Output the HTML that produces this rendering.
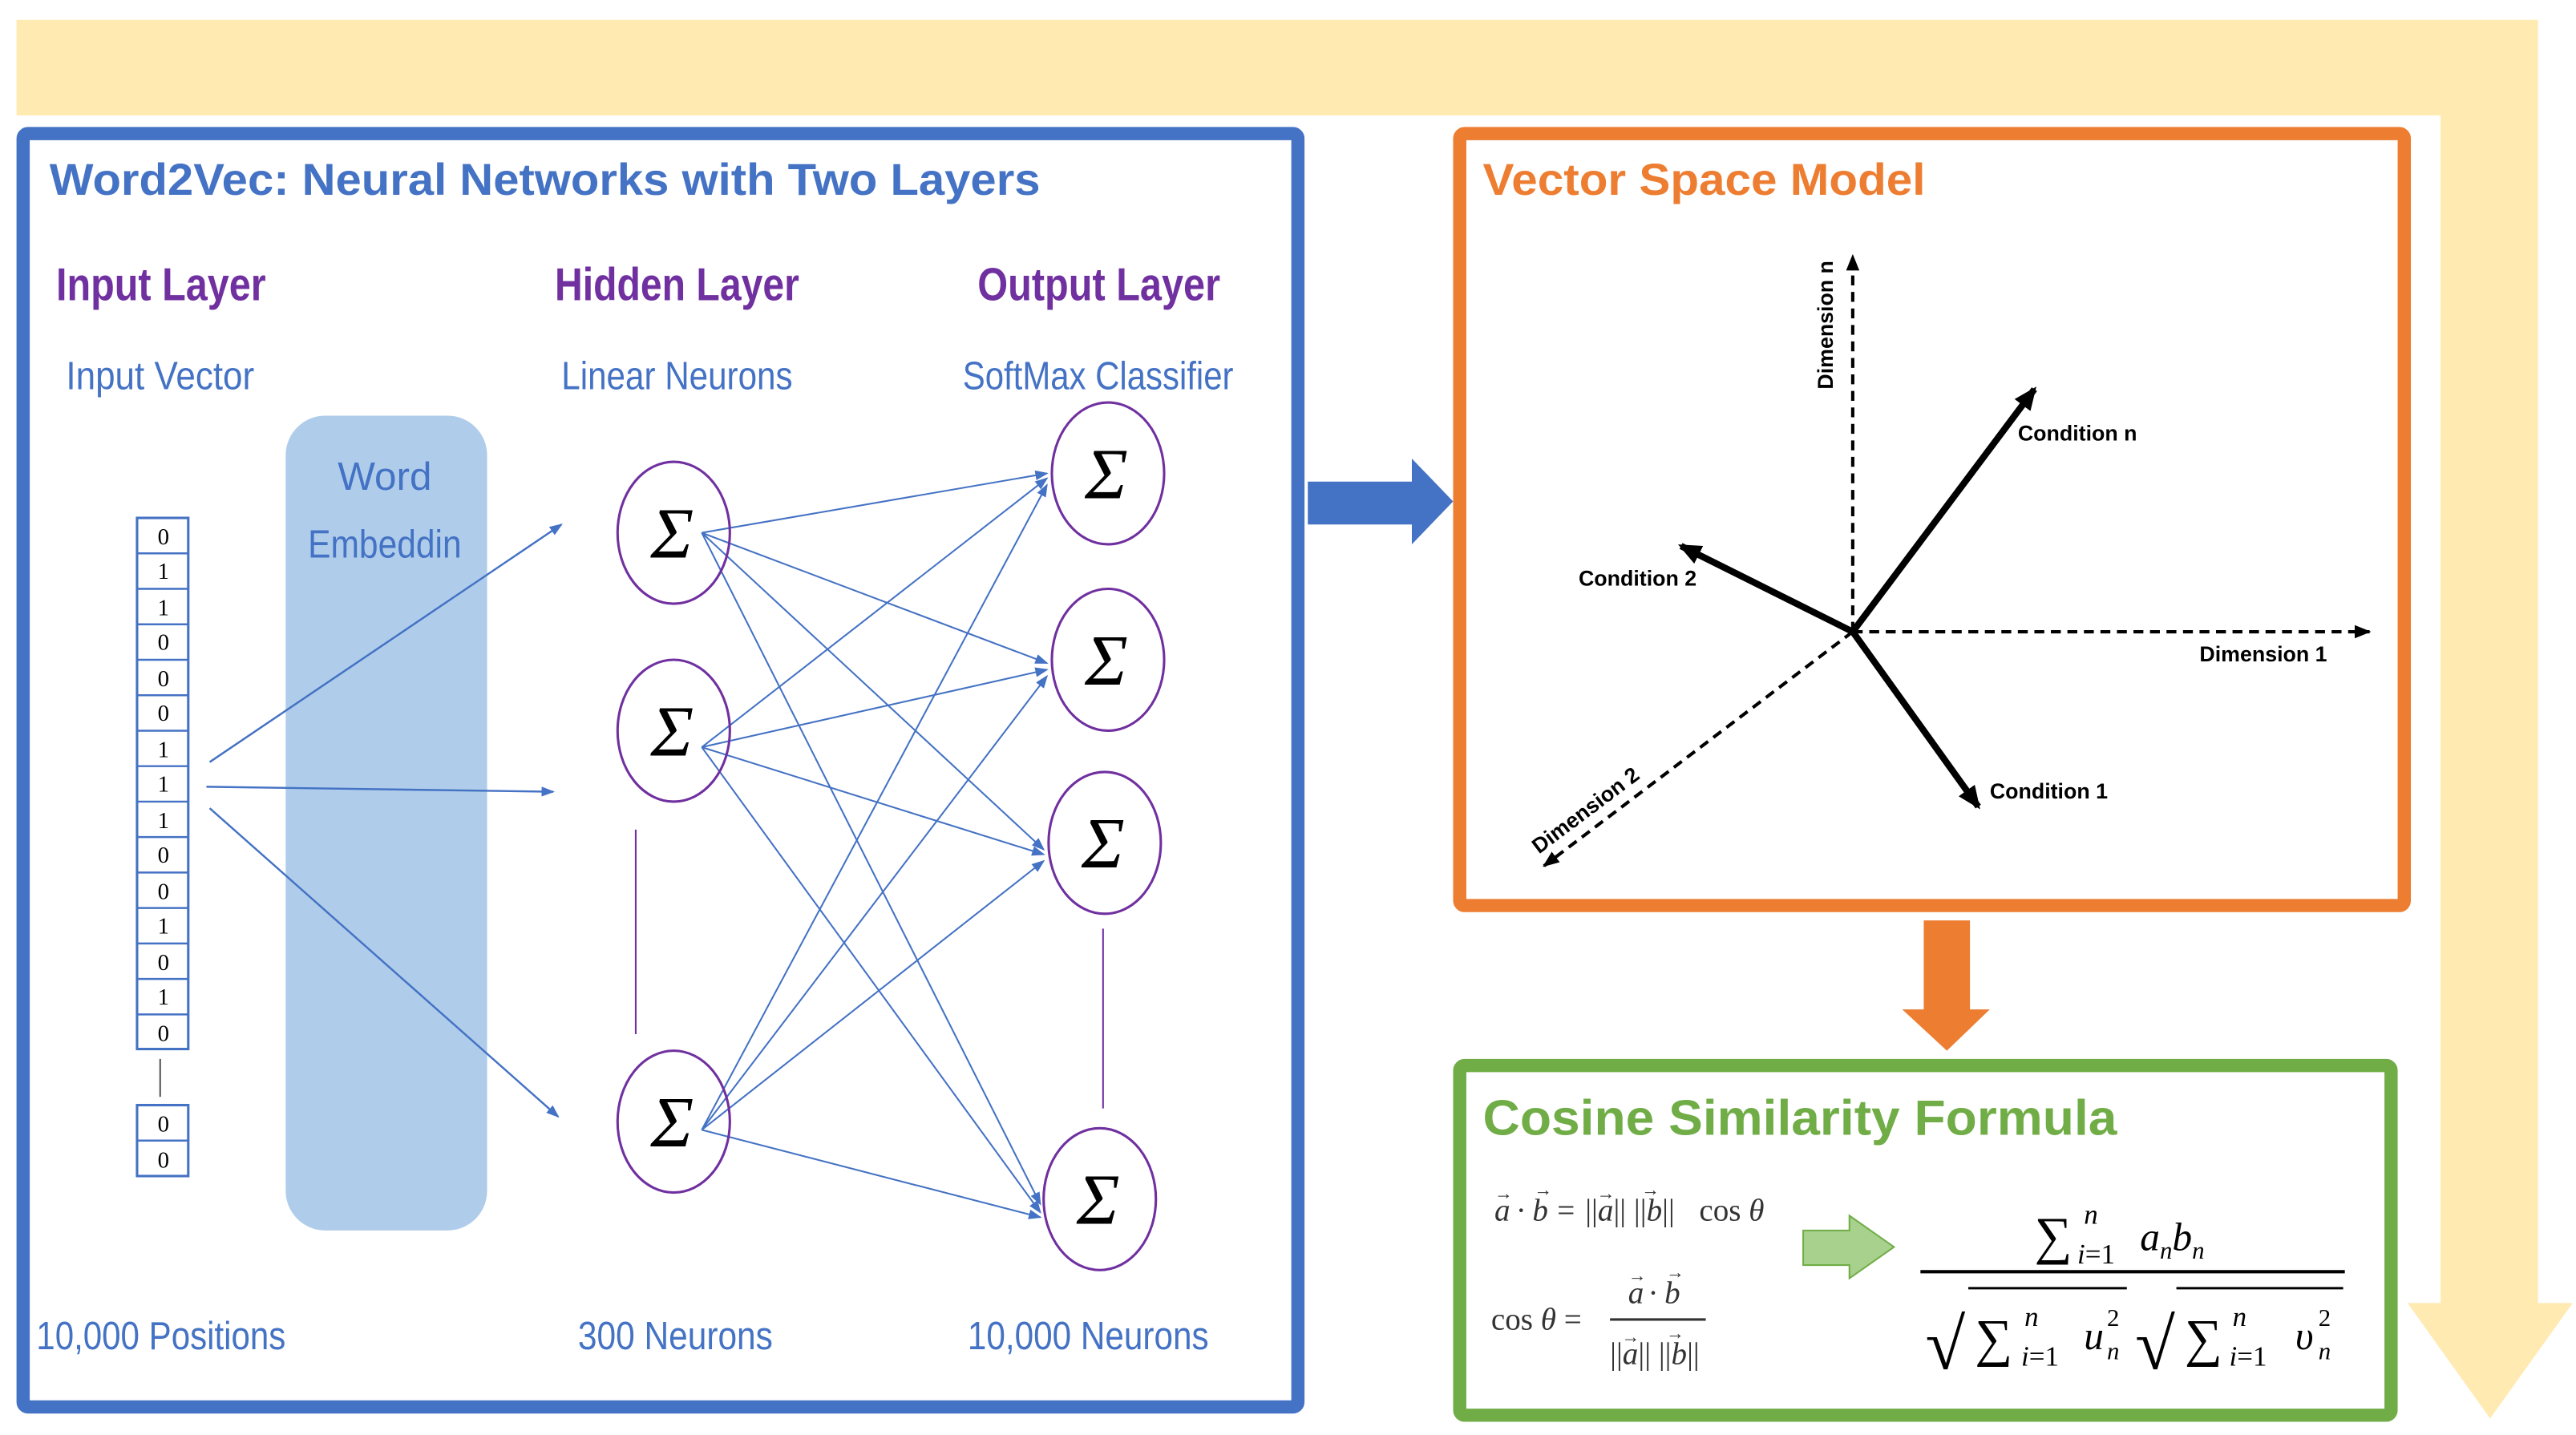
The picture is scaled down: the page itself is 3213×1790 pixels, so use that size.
<!DOCTYPE html>
<html><head><meta charset="utf-8"><style>
html,body{margin:0;padding:0;background:#fff;}
svg{display:block;}
text{font-family:"Liberation Sans",sans-serif;}
.serif text, text.serif{font-family:"Liberation Serif",serif;}
</style></head><body>
<svg width="3213" height="1790" viewBox="0 0 1560 870" preserveAspectRatio="none" xmlns="http://www.w3.org/2000/svg">
<defs>
<marker id="ab" markerWidth="8" markerHeight="8" refX="7" refY="4" orient="auto" markerUnits="userSpaceOnUse"><path d="M0,1 L8,4 L0,7 Z" fill="#4472C4"/></marker>
<marker id="kb" markerWidth="14" markerHeight="14" refX="12" refY="7" orient="auto" markerUnits="userSpaceOnUse"><path d="M0,1 L14,7 L0,13 Z" fill="#000"/></marker>
<marker id="kd" markerWidth="10" markerHeight="10" refX="9" refY="5" orient="auto" markerUnits="userSpaceOnUse"><path d="M0,1 L10,5 L0,9 Z" fill="#000"/></marker>
</defs>
<path d="M10,12 H1537 V790 H1558 L1508,860 L1458,790 H1478 V70 H10 Z" fill="#FFEAB2"/>
<rect x="14" y="81" width="772" height="772" fill="#fff" stroke="#4472C4" stroke-width="8" rx="3"/>
<text x="30" y="118" font-size="27" font-weight="bold" fill="#4472C4" textLength="600" lengthAdjust="spacingAndGlyphs">Word2Vec: Neural Networks with Two Layers</text>
<g font-size="28" font-weight="bold" fill="#7030A0">
<text x="34" y="182" textLength="127" lengthAdjust="spacingAndGlyphs">Input Layer</text>
<text x="336" y="182" textLength="148" lengthAdjust="spacingAndGlyphs">Hidden Layer</text>
<text x="592" y="182" textLength="147" lengthAdjust="spacingAndGlyphs">Output Layer</text>
</g>
<g font-size="24" fill="#4472C4">
<text x="40" y="236" textLength="114" lengthAdjust="spacingAndGlyphs">Input Vector</text>
<text x="340" y="236" textLength="140" lengthAdjust="spacingAndGlyphs">Linear Neurons</text>
<text x="583" y="236" textLength="164" lengthAdjust="spacingAndGlyphs">SoftMax Classifier</text>
<text x="22" y="818" textLength="151" lengthAdjust="spacingAndGlyphs">10,000 Positions</text>
<text x="350" y="818" textLength="118" lengthAdjust="spacingAndGlyphs">300 Neurons</text>
<text x="586" y="818" textLength="146" lengthAdjust="spacingAndGlyphs">10,000 Neurons</text>
</g>
<rect x="173" y="252" width="122" height="494" rx="24" fill="#AFCDEA"/>
<g font-size="24" fill="#4472C4" text-anchor="middle">
<text x="233" y="297">Word</text>
<text x="233" y="338" textLength="93" lengthAdjust="spacingAndGlyphs">Embeddin</text>
</g>
<g stroke="#4472C4" stroke-width="1.5" fill="#fff">
<rect x="83" y="314" width="31" height="322"/>
<rect x="83" y="670" width="31" height="43"/>
</g>
<g stroke="#4472C4" stroke-width="1.2">
<line x1="83" y1="335.5" x2="114" y2="335.5"/><line x1="83" y1="357" x2="114" y2="357"/><line x1="83" y1="378.5" x2="114" y2="378.5"/><line x1="83" y1="400" x2="114" y2="400"/><line x1="83" y1="421.5" x2="114" y2="421.5"/><line x1="83" y1="443" x2="114" y2="443"/><line x1="83" y1="464.5" x2="114" y2="464.5"/><line x1="83" y1="486" x2="114" y2="486"/><line x1="83" y1="507.5" x2="114" y2="507.5"/><line x1="83" y1="529" x2="114" y2="529"/><line x1="83" y1="550.5" x2="114" y2="550.5"/><line x1="83" y1="572" x2="114" y2="572"/><line x1="83" y1="593.5" x2="114" y2="593.5"/><line x1="83" y1="615" x2="114" y2="615"/>
<line x1="83" y1="691.5" x2="114" y2="691.5"/>
</g>
<line x1="97" y1="642" x2="97" y2="665" stroke="#555" stroke-width="1"/>
<g class="serif" font-size="14" fill="#000" text-anchor="middle">
<text x="99" y="330">0</text><text x="99" y="351">1</text><text x="99" y="373">1</text><text x="99" y="394">0</text><text x="99" y="416">0</text><text x="99" y="437">0</text><text x="99" y="459">1</text><text x="99" y="480">1</text><text x="99" y="502">1</text><text x="99" y="523">0</text><text x="99" y="545">0</text><text x="99" y="566">1</text><text x="99" y="588">0</text><text x="99" y="609">1</text><text x="99" y="631">0</text>
<text x="99" y="686">0</text><text x="99" y="708">0</text>
</g>
<g stroke="#4472C4" stroke-width="1.2" marker-end="url(#ab)">
<line x1="127" y1="462" x2="340" y2="318"/>
<line x1="125" y1="477" x2="335" y2="480"/>
<line x1="127" y1="490" x2="338" y2="677"/>
</g>
<g stroke="#4472C4" stroke-width="1" marker-end="url(#ab)">
<line x1="425" y1="323" x2="634" y2="287"/><line x1="425" y1="323" x2="634" y2="402"/><line x1="425" y1="323" x2="632" y2="515"/><line x1="425" y1="323" x2="630" y2="730"/>
<line x1="425" y1="453" x2="634" y2="290"/><line x1="425" y1="453" x2="634" y2="406"/><line x1="425" y1="453" x2="632" y2="518"/><line x1="425" y1="453" x2="630" y2="735"/>
<line x1="425" y1="685" x2="634" y2="294"/><line x1="425" y1="685" x2="634" y2="410"/><line x1="425" y1="685" x2="632" y2="522"/><line x1="425" y1="685" x2="630" y2="738"/>
</g>
<g fill="none" stroke="#7030A0" stroke-width="1.5">
<ellipse cx="408" cy="323" rx="34" ry="43"/><ellipse cx="408" cy="443" rx="34" ry="43"/><ellipse cx="408" cy="680" rx="34" ry="43"/>
<ellipse cx="671" cy="287" rx="34" ry="43"/><ellipse cx="671" cy="400" rx="34" ry="43"/><ellipse cx="669" cy="511" rx="34" ry="43"/><ellipse cx="666" cy="727" rx="34" ry="43"/>
</g>
<line x1="385" y1="503" x2="385" y2="627" stroke="#7030A0" stroke-width="1"/>
<line x1="668" y1="563" x2="668" y2="672" stroke="#7030A0" stroke-width="1"/>
<g class="serif" font-size="44" font-style="italic" fill="#000" text-anchor="middle">
<text x="407" y="338">Σ</text><text x="407" y="458">Σ</text><text x="407" y="695">Σ</text>
<text x="670" y="302">Σ</text><text x="670" y="415">Σ</text><text x="668" y="526">Σ</text><text x="665" y="742">Σ</text>
</g>
<path d="M792,292 H855 V278 L880,304 L855,330 V318 H792 Z" fill="#4472C4"/>
<rect x="884" y="81" width="572" height="468" fill="#fff" stroke="#ED7D31" stroke-width="8" rx="3"/>
<text x="898" y="118" font-size="27" font-weight="bold" fill="#ED7D31" textLength="268" lengthAdjust="spacingAndGlyphs">Vector Space Model</text>
<g stroke="#000" stroke-width="2" stroke-dasharray="6,4" marker-end="url(#kd)">
<line x1="1122" y1="383" x2="1122" y2="155"/>
<line x1="1122" y1="383" x2="1435" y2="383"/>
<line x1="1122" y1="383" x2="935" y2="525"/>
</g>
<g stroke="#000" stroke-width="4" marker-end="url(#kb)">
<line x1="1122" y1="383" x2="1232" y2="236"/>
<line x1="1122" y1="383" x2="1018" y2="331"/>
<line x1="1122" y1="383" x2="1198" y2="489"/>
</g>
<g font-size="13" font-weight="bold" fill="#000">
<text x="1222" y="267">Condition n</text>
<text x="956" y="355">Condition 2</text>
<text x="1332" y="401">Dimension 1</text>
<text x="1205" y="484">Condition 1</text>
<text transform="translate(1110,236) rotate(-90)">Dimension n</text>
<text transform="translate(932,518) rotate(-37)">Dimension 2</text>
</g>
<path d="M1165,558 H1193 V612 H1205 L1179,637 L1152,612 H1165 Z" fill="#ED7D31"/>
<rect x="884" y="646" width="564" height="212" fill="#fff" stroke="#70AD47" stroke-width="8" rx="3"/>
<text x="898" y="688" font-size="30" font-weight="bold" fill="#70AD47" textLength="384" lengthAdjust="spacingAndGlyphs">Cosine Similarity Formula</text>
<g class="serif" fill="#333" font-size="19">
<!-- formula 1 -->
<text x="905" y="740" font-style="italic">a</text>
<text x="918" y="740">·</text>
<text x="928" y="740" font-style="italic">b</text>
<text x="943" y="740">=</text>
<text x="960" y="740">||<tspan font-style="italic">a</tspan>|| ||<tspan font-style="italic">b</tspan>||</text>
<text x="1029" y="740">cos <tspan font-style="italic">θ</tspan></text>
<g font-size="11"><text x="905" y="727">→</text><text x="929" y="725">→</text><text x="967" y="727">→</text><text x="994" y="725">→</text></g>
<!-- formula 2 -->
<text x="903" y="806">cos <tspan font-style="italic">θ</tspan> =</text>
<text x="986" y="790" font-style="italic">a</text>
<text x="998" y="790">·</text>
<text x="1008" y="790" font-style="italic">b</text>
<text x="975" y="827">||<tspan font-style="italic">a</tspan>|| ||<tspan font-style="italic">b</tspan>||</text>
<g font-size="11"><text x="986" y="777">→</text><text x="1009" y="775">→</text><text x="982" y="814">→</text><text x="1009" y="812">→</text></g>
</g>
<line x1="975" y1="800" x2="1033" y2="800" stroke="#333" stroke-width="1.5"/>
<path d="M1092,746 H1120 V737 L1147,756 L1120,775 V767 H1092 Z" fill="#A9D18E" stroke="#70AD47" stroke-width="1"/>
<g class="serif" fill="#000">
<text x="1232" y="760" font-size="32">∑</text>
<text x="1262" y="742" font-size="17" font-style="italic">n</text>
<text x="1258" y="766" font-size="17"><tspan font-style="italic">i</tspan>=1</text>
<text x="1296" y="758" font-size="24" font-style="italic">a<tspan font-size="15" dy="5">n</tspan><tspan dy="-5">b</tspan><tspan font-size="15" dy="5">n</tspan></text>
<text x="1166" y="830" font-size="44">√</text>
<text x="1196" y="822" font-size="32">∑</text>
<text x="1226" y="804" font-size="17" font-style="italic">n</text>
<text x="1224" y="828" font-size="17"><tspan font-style="italic">i</tspan>=1</text>
<text x="1262" y="818" font-size="24" font-style="italic">u</text>
<text x="1276" y="804" font-size="15">2</text>
<text x="1276" y="824" font-size="15" font-style="italic">n</text>
<text x="1293" y="830" font-size="44">√</text>
<text x="1323" y="822" font-size="32">∑</text>
<text x="1352" y="804" font-size="17" font-style="italic">n</text>
<text x="1350" y="828" font-size="17"><tspan font-style="italic">i</tspan>=1</text>
<text x="1390" y="818" font-size="24" font-style="italic">υ</text>
<text x="1404" y="804" font-size="15">2</text>
<text x="1404" y="824" font-size="15" font-style="italic">n</text>
</g>
<line x1="1163" y1="771" x2="1420" y2="771" stroke="#000" stroke-width="2"/>
<line x1="1192" y1="781" x2="1288" y2="781" stroke="#000" stroke-width="1.5"/>
<line x1="1318" y1="781" x2="1419" y2="781" stroke="#000" stroke-width="1.5"/>
</svg>
</body></html>
